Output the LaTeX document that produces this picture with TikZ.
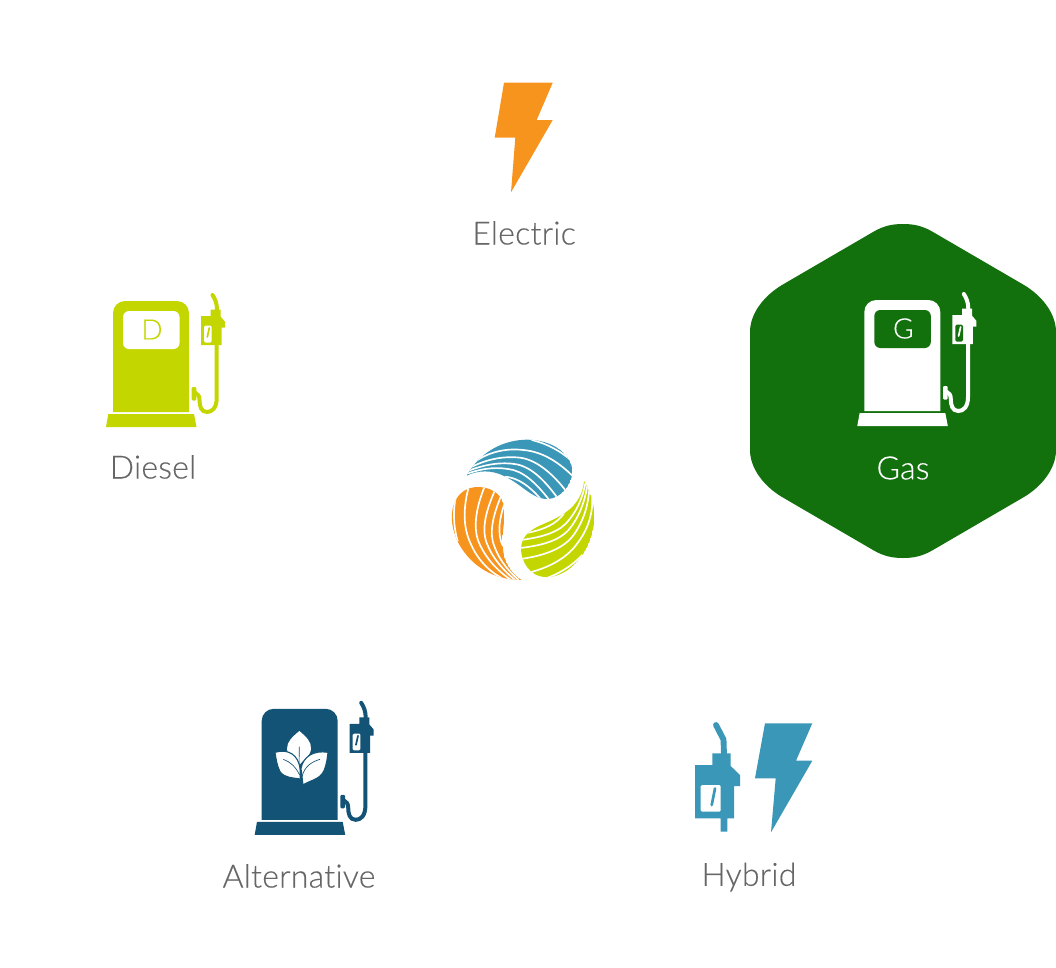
\documentclass[tikz,border=0pt]{standalone}
\usepackage{fontspec}
\setmainfont{Lato Light}[Ligatures=NoCommon,FakeBold=0.3,LetterSpace=0.8]
\definecolor{cOrange}{HTML}{F7941E}
\definecolor{cLime}{HTML}{C4D600}
\definecolor{cNavy}{HTML}{135375}
\definecolor{cTeal}{HTML}{3A97B7}
\definecolor{cGreen}{HTML}{12710C}
\definecolor{cText}{HTML}{666666}
\tikzset{
  label text/.style={text=cText,font=\fontsize{24}{28}\selectfont,inner sep=0pt,anchor=center},
  screen text/.style={font=\fontsize{21}{24}\selectfont,inner sep=0pt,anchor=center},
}
\newcommand{\pumpicon}[3]{%
 \begin{scope}[shift={(#1)}]
  \fill[#2] (113,412) [rounded corners=9pt] -- (113,301) -- (189,301) [sharp corners] -- (189,412) -- cycle;
  \fill[#2] (108.3,414) -- (194,414) -- (196.5,427) -- (106,427) -- cycle;
  \draw[#2,line width=3pt,line cap=round] (212.5,295) .. controls (215,299) and (217,303) .. (217,310);
  \fill[#2] (210.7,309.5) -- (218,309.5) -- (220.7,309.5) -- (220.7,316.7) -- (225,321.7) -- (225,327.7) -- (221.5,327.7) -- (221.5,345) -- (201,345) -- (201,316) -- (210.7,316) -- cycle;
  \fill[#3,rounded corners=1pt] (204,325.7) rectangle (211.7,342.5);
  \draw[#2,line width=1.3pt,line cap=round] (209.3,328) -- (207.3,337);
  \draw[#2,line width=3pt] (216.7,344) -- (216.7,398) .. controls (216.7,408) and (212,412) .. (207,412) .. controls (201,412) and (199.5,406) .. (199.5,400) .. controls (199.5,396) and (198,394) .. (195,392.5);
  \fill[#2,rounded corners=0.8pt] (191.7,387) rectangle (196.3,400.5);
 \end{scope}}
\newcommand{\leafshape}{(20,122) .. controls (60,50) and (130,15) .. (200,14) .. controls (280,14) and (337,60) .. (337,110) .. controls (337,150) and (300,192) .. (262,192) .. controls (215,192) and (190,150) .. (130,122) .. controls (95,105) and (55,105) .. (20,122) -- cycle}
\begin{document}
\begin{tikzpicture}[x=0.75pt,y=-0.75pt]
\useasboundingbox (0,0) rectangle (1056,967);
% Gas hexagon
\fill[cGreen] (873,232) .. controls (884,225.5) and (893,224) .. (903,224) .. controls (913,224) and (922,225.5) .. (933,232) -- (1024,285) .. controls (1040,294.5) and (1056,312) .. (1056,332) -- (1056,450) .. controls (1056,470) and (1040,487.5) .. (1024,497) -- (933,550) .. controls (922,556.5) and (913,558) .. (903,558) .. controls (893,558) and (884,556.5) .. (873,550) -- (782,497) .. controls (766,487.5) and (750,470) .. (750,450) -- (750,332) .. controls (750,312) and (766,294.5) .. (782,285) -- cycle;
% Electric
\fill[cOrange] (504,82.7) -- (552.7,82.7) -- (536.7,120) -- (552.7,120) -- (511,192.3) -- (515.3,137.7) -- (494.7,137.7) -- cycle;
\node[label text] (electric) at (524,233) {Electric};
% Diesel
\pumpicon{0,0}{cLime}{white}
\fill[white,rounded corners=4.5pt] (123,311) rectangle (179.5,349);
\node[screen text,text=cLime] (dieselD) at (152,329.5) {D};
\node[label text] (diesel) at (153,467) {Diesel};
% Gas
\pumpicon{751.3,-1}{white}{cGreen}
\fill[cGreen,rounded corners=4.5pt] (874.3,310) rectangle (930.8,348);
\node[screen text,text=white] (gasG) at (903.3,328.5) {G};
\node[label text,text=white] (gas) at (903,468) {Gas};
% Alternative
\pumpicon{148.7,407.8}{cNavy}{white}
\begin{scope}[shift={(265,725)},x=0.25pt,y=-0.25pt]
 \fill[white] (103,18) .. controls (83,35) and (65,50) .. (66,72) .. controls (68,95) and (93,105) .. (103,120) .. controls (113,105) and (136,95) .. (138,72) .. controls (140,50) and (123,35) .. (103,18) -- cycle;
 \draw[cNavy,line width=0.5pt] (103,65) -- (102,125);
 \fill[white,draw=cNavy,line width=0.8pt] (30,82) .. controls (70,70) and (100,90) .. (105,130) -- (106,162) .. controls (85,158) and (60,160) .. (45,140) .. controls (35,120) and (33,100) .. (30,82) -- cycle;
 \fill[white,draw=cNavy,line width=0.8pt] (189,82) .. controls (145,75) and (115,95) .. (108,130) -- (114,180) .. controls (135,165) and (165,165) .. (178,135) .. controls (185,115) and (187,100) .. (189,82) -- cycle;
 \draw[cNavy,line width=0.5pt] (55,103) .. controls (75,110) and (92,125) .. (104,150);
 \draw[cNavy,line width=0.5pt] (165,103) .. controls (140,110) and (118,125) .. (111,155);
\end{scope}
\node[label text] (alternative) at (299,876) {Alternative};
% Hybrid
\fill[cTeal] (712.3,753.3) -- (730.7,753.3) -- (730.7,766) -- (740,775) -- (740,786) -- (734,786) -- (734,818.3) -- (727.3,818.3) -- (727.3,831.7) -- (720.7,831.7) -- (720.7,818.3) -- (695,818.3) -- (695,765) -- (712.3,765) -- cycle;
\draw[cTeal,line width=4.4pt,line cap=round] (716,725) -- (723.5,739.5) -- (724,755);
\fill[white,rounded corners=1pt] (700.7,785) rectangle (720.7,811.7);
\draw[cTeal,line width=2pt,line cap=round] (715,788.5) -- (711.7,805);
\fill[cTeal] (765,723.3) -- (812.3,723.3) -- (796,760.7) -- (812.3,760.7) -- (771,832.3) -- (775.7,778.3) -- (755,778.3) -- cycle;
\node[label text] (hybrid) at (749,877) {Hybrid};
% central swirl
\foreach \ang/\col in {0/cTeal,120/cOrange,240/cLime}{
 \begin{scope}[shift={(524,512)},rotate=\ang,x=0.25pt,y=-0.25pt,shift={(-192,-231)}]
  \begin{scope}
   \clip \leafshape;
   \fill[\col] \leafshape;
   \begin{scope}[white,line width=1.25pt]
    \draw (215,15) .. controls (260,25) and (305,50) .. (335,78);
    \draw (42,82) .. controls (80,55) and (130,38) .. (190,45) .. controls (250,50) and (300,85) .. (340,125);
    \draw (30,98) .. controls (75,75) and (125,62) .. (180,68) .. controls (235,75) and (285,125) .. (318,168);
    \draw (26,107) .. controls (75,88) and (125,80) .. (170,88) .. controls (220,98) and (260,145) .. (292,188);
    \draw (24,115) .. controls (75,98) and (115,95) .. (160,105) .. controls (205,118) and (240,160) .. (268,195);
    \draw (135,125) .. controls (175,128) and (210,155) .. (242,192);
   \end{scope}
  \end{scope}
 \end{scope}
}
\end{tikzpicture}
\end{document}
